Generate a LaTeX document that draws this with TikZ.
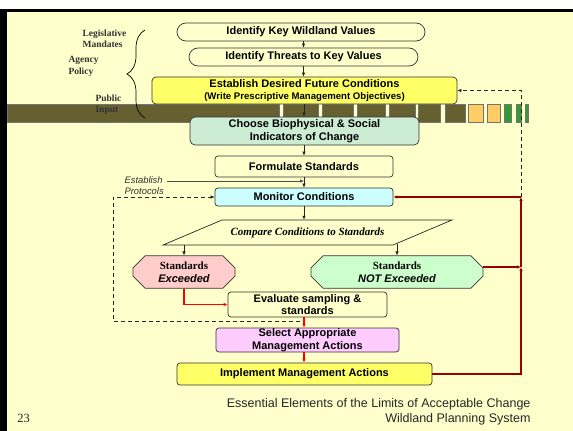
\documentclass[tikz,border=0pt]{standalone}
\usepackage{fontspec}
\setmainfont{Liberation Serif}
\setsansfont{Liberation Sans}
\usetikzlibrary{arrows.meta,shapes.misc,decorations.pathreplacing}

\definecolor{cream}{RGB}{255,255,204}
\definecolor{bandol}{RGB}{102,96,48}
\definecolor{bandor}{RGB}{255,204,102}
\definecolor{bandgr}{RGB}{51,153,51}
\definecolor{boxyel}{RGB}{255,255,102}
\definecolor{boxmint}{RGB}{204,236,212}
\definecolor{boxcyan}{RGB}{204,255,255}
\definecolor{boxpink}{RGB}{255,204,204}
\definecolor{boxgreen}{RGB}{204,255,204}
\definecolor{boxlilac}{RGB}{255,204,255}
\definecolor{loopred}{RGB}{153,0,0}

\newcommand{\boxfont}{\sffamily\bfseries\fontsize{11}{12.7}\selectfont}
\newcommand{\sidefont}{\rmfamily\bfseries\fontsize{9.5}{11.3}\selectfont}

\begin{document}
\begin{tikzpicture}[x=1pt,y=-1pt,
  stepbox/.style={draw=black!80, line width=0.7pt, fill=cream, rounded corners=3pt,
    align=center, inner sep=0pt, font=\boxfont},
  chambox/.style={stepbox, sharp corners, chamfered rectangle,
    chamfered rectangle xsep=6pt, chamfered rectangle ysep=6pt},
  sidelbl/.style={font=\sidefont, align=left, anchor=west, text=black!80},
  arr/.style={-{Latex[length=4pt,width=3.5pt]}, line width=0.6pt, black!85},
  redarr/.style={arr, red, line width=1.1pt},
  looparr/.style={arr, loopred, line width=1.3pt},
  dasharr/.style={arr, dashed, dash pattern=on 4pt off 3pt}]
  \useasboundingbox (0,0) rectangle (573,431);
  % frame
  \fill[white] (0,0) rectangle (573,431);
  \fill[cream] (7,11) rectangle (573,431);
  \fill[black] (0,9) rectangle (573,11.5);
  \fill[black] (0,9) rectangle (7,431);
  % input band
  \foreach \a/\b/\c in {7/279/bandol, 283/318/bandol, 322/353/bandol, 357/385/bandol,
      389/415/bandol, 418/440/bandol, 445/465/bandol, 468/483/bandor, 487/500/bandor,
      504/511/bandgr, 516/521/bandgr, 525/528/bandgr}
    \filldraw[fill=\c, draw=black!55, line width=0.4pt] (\a,104) rectangle (\b,122);
  \draw[line width=0.7pt, decorate, decoration={brace, amplitude=18pt}] (145,118) -- (145,30);
  \node[sidelbl] (leg) at (79,38.5) {Legislative\\Mandates};
  \node[sidelbl] (agy) at (65,66.5) {Agency\\Policy};
  \node[sidelbl] (pub) at (92,104.5) {Public\\Input};

  % steps
  \node[stepbox, minimum width=248pt, minimum height=18pt, rounded corners=9pt] (key) at (301,32) {Identify Key Wildland Values};
  \node[stepbox, minimum width=229pt, minimum height=18pt, rounded corners=9pt] (thr) at (303.5,57) {Identify Threats to Key Values};
  \node[stepbox, fill=boxyel, minimum width=305pt, minimum height=27pt, rounded corners=4pt] (est) at (304.5,90.5)
    {Establish Desired Future Conditions\\{\fontsize{9.6}{11}\selectfont (Write Prescriptive Management Objectives)}};
  \node[stepbox, fill=boxmint, minimum width=229pt, minimum height=28pt, rounded corners=5pt] (ind) at (304.5,131)
    {Choose Biophysical \& Social\\Indicators of Change};
  \node[stepbox, minimum width=178pt, minimum height=21pt] (frm) at (304,166.5) {Formulate Standards};
  \node[stepbox, fill=boxcyan, minimum width=178pt, minimum height=18pt] (mon) at (304,197) {Monitor Conditions};
  \draw[line width=0.7pt, black!85] (163,245) -- (222,220) -- (452,220) -- (393,245) -- cycle;
  \node[font=\rmfamily\bfseries\itshape\fontsize{11}{13}\selectfont, minimum height=25pt, inner sep=0pt] (cmp) at (307.5,232.5)
    {Compare Conditions to Standards};
  \node[chambox, fill=boxpink, minimum width=102pt, minimum height=32pt] (exc) at (184,272) {{\rmfamily Standards}\\\itshape Exceeded};
  \node[chambox, fill=boxgreen, minimum width=172pt, minimum height=32pt] (nex) at (397,272) {{\rmfamily Standards}\\\itshape NOT Exceeded};
  \node[stepbox, minimum width=159pt, minimum height=25pt] (evl) at (307.5,304.5) {Evaluate sampling \&\\standards};
  \node[stepbox, fill=boxlilac, minimum width=183pt, minimum height=24pt] (sel) at (307.5,340) {Select Appropriate\\Management Actions};
  \node[stepbox, fill=boxyel, minimum width=255pt, minimum height=22pt] (imp) at (304.5,374) {Implement Management Actions};

  \node[font=\sffamily\itshape\fontsize{9.4}{11}\selectfont, align=left, anchor=west, text=black!80] (prot) at (121,185.5) {Establish\\Protocols};
  \coordinate (pr) at (167,181);

  % main flow
  \draw[arr] (key.south -| thr.north) -- (thr.north);
  \draw[arr] (thr.south) -- (thr.south |- est.north);
  \draw[arr] (est.south -| mon) -- (ind.north -| mon);
  \draw[arr] (ind.south -| mon) -- (frm.north);
  \draw[arr] (frm.south) -- (mon.north);
  \draw[arr, black!70] (pr) -- (pr -| frm.south);
  \draw[arr] (mon.south) -- (cmp.north -| mon.south);
  \draw[arr] (cmp.south -| exc.north) -- (exc.north);
  \draw[arr] ([yshift=1.5pt]cmp.south -| nex.north) -- (nex.north);
  \draw[redarr] (exc.south) |- (evl.west);
  \draw[redarr] (evl.south -| mon) -- (sel.north -| mon);
  \draw[redarr] (sel.south -| mon) -- (imp.north -| mon);

  % feedback
  \coordinate (j1) at (521,267);
  \coordinate (j2) at (521,197);
  \draw[looparr] (imp.east) -| (j1);
  \draw[looparr] (nex.east |- j1) -- (j1);
  \draw[looparr] (j1) -- (j2);
  \draw[looparr] (j2) -- (mon.east);
  \draw[dasharr] (j2) |- (est.east);
  \coordinate (dl) at (113,321);
  \coordinate (dr) at (300,321);
  \draw[dasharr] (dr) -- (dl) |- (mon.west);

  \node[font=\sffamily\fontsize{12.5}{15}\selectfont, align=right, anchor=east, text=black!85] (ttl) at (534,411.5)
    {Essential Elements of the Limits of Acceptable Change\\Wildland Planning System};
  \node[font=\rmfamily\fontsize{12.5}{15}\selectfont, text=black!85] (pg) at (23.5,418) {23};
\end{tikzpicture}
\end{document}
